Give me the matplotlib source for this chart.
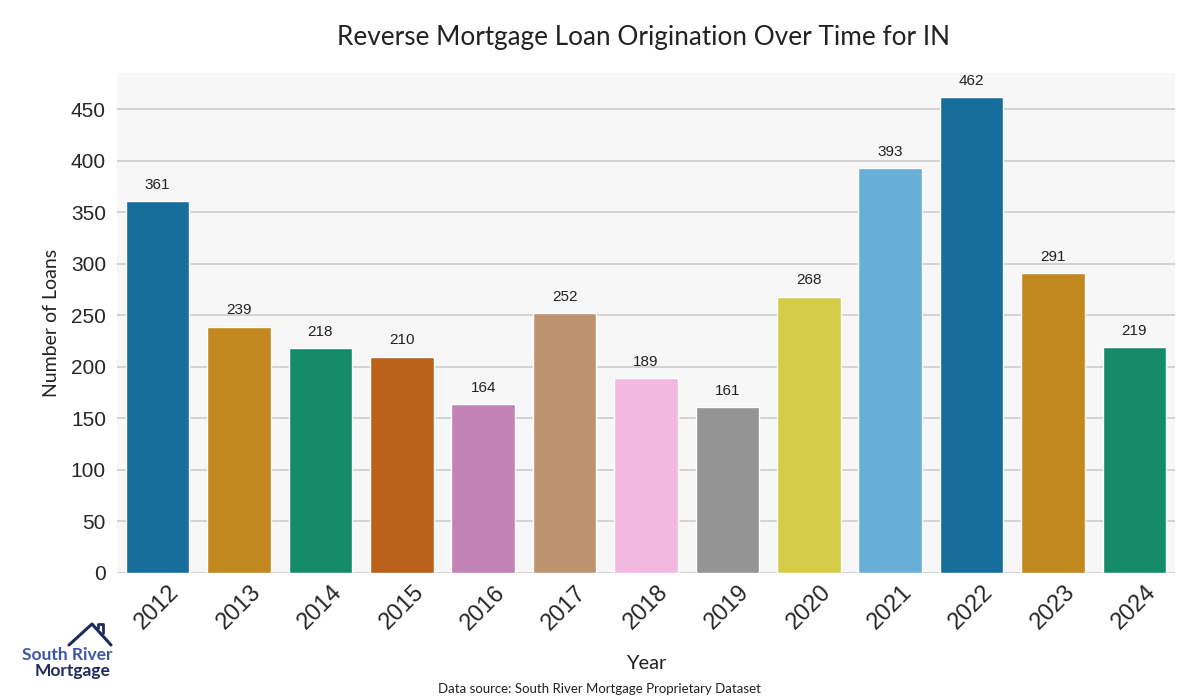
import matplotlib
matplotlib.use("Agg")
import matplotlib.pyplot as plt
import seaborn as sns
import pandas as pd
from matplotlib.lines import Line2D

years = ["2012", "2013", "2014", "2015", "2016", "2017", "2018", "2019", "2020", "2021", "2022", "2023", "2024"]
loans = [361, 239, 218, 210, 164, 252, 189, 161, 268, 393, 462, 291, 219]

df = pd.DataFrame({"Year": years, "Loans": loans})

sns.set_style("whitegrid", {"axes.facecolor": "#F7F7F7", "grid.color": "#CCCCCC"})
plt.rcParams["font.family"] = ["Liberation Sans", "DejaVu Sans"]

fig = plt.figure(figsize=(12, 7), dpi=100)
ax = fig.add_axes([117/1200, 1 - 573/700, 1058/1200, 500/700])

pal = sns.color_palette("colorblind", 10)
colors = [pal[i % 10] for i in range(len(years))]
sns.barplot(data=df, x="Year", y="Loans", hue="Year", palette=colors, legend=False,
            saturation=0.75, width=0.78, ax=ax)

ax.set_ylim(0, max(loans) * 1.05)
ax.set_xlim(-0.5, len(years) - 0.5)
ax.set_yticks(range(0, 451, 50))
for s in ax.spines.values():
    s.set_visible(False)
ax.grid(axis="x", visible=False)
ax.grid(axis="y", color="#CCCCCC", linewidth=1.2)
ax.tick_params(axis="y", labelsize=15, length=0, pad=8)
ax.tick_params(axis="x", labelsize=17, length=0, pad=6)
plt.setp(ax.get_xticklabels(), rotation=45)

for i, v in enumerate(loans):
    ax.text(i, v + 9, str(v), ha="center", va="bottom", fontsize=11, color="#222222")

ax.set_xlabel("Year", fontsize=14.5, family=["Lato", "DejaVu Sans"], color="#222222", labelpad=15)
ax.set_ylabel("Number of Loans", fontsize=14, family=["Lato", "DejaVu Sans"], color="#222222", labelpad=8)
fig.text(0.536, 1 - 38/700, "Reverse Mortgage Loan Origination Over Time for IN",
         ha="center", va="center", fontsize=18.8, family=["Lato", "DejaVu Sans"], color="#222222")
fig.text(0.5, 1 - 689/700, "Data source: South River Mortgage Proprietary Dataset",
         ha="center", va="center", fontsize=9.5, family=["Lato", "DejaVu Sans"], color="#222222")

# logo
fig.text(67/1200, 1 - 655/700, "South River", ha="center", va="center", fontsize=12.5,
         fontweight="bold", color="#3F56A8", family=["Lato", "DejaVu Sans"])
fig.text(73/1200, 1 - 671/700, "Mortgage", ha="center", va="center", fontsize=12.5,
         fontweight="bold", color="#1F2A5C", family=["Lato", "DejaVu Sans"])
xs = [69, 92, 111]
ys = [645, 624, 645]
fig.add_artist(Line2D([x/1200 for x in xs], [1 - y/700 for y in ys], color="#1F2A5C", lw=2.2,
                      transform=fig.transFigure))
fig.add_artist(Line2D([98/1200, 98/1200, 103/1200, 103/1200], [1 - 628/700, 1 - 624/700, 1 - 624/700, 1 - 633/700],
                      color="#1F2A5C", lw=2.0, transform=fig.transFigure))

fig.savefig("out.png", dpi=100)
